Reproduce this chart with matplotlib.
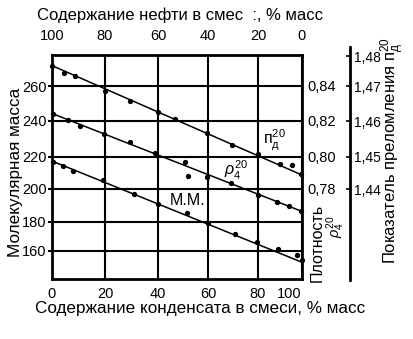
import numpy as np
import matplotlib
matplotlib.use("Agg")
import matplotlib.pyplot as plt

plt.rcParams['font.family'] = ['Liberation Sans', 'DejaVu Sans']
plt.rcParams['mathtext.fontset'] = 'custom'
plt.rcParams['mathtext.rm'] = 'Liberation Sans'
plt.rcParams['mathtext.it'] = 'Liberation Sans:italic'
plt.rcParams['mathtext.bf'] = 'Liberation Sans:bold'

# ---------------- data ----------------
cond_ticks = [0, 20, 40, 60, 80, 100]          # condensate content, % mass (bottom)
oil_ticks = [100, 80, 60, 40, 20, 0]           # oil content, % mass (top)
mm_ticks = [160, 180, 200, 220, 240, 260]      # molecular mass (left)
rho_ticks = [0.78, 0.80, 0.82, 0.84]           # density (right)
n_ticks = [1.44, 1.45, 1.46, 1.47, 1.48]       # refractive index (far right)

# refractive index n_D^20
n_x = [0, 4.5, 8.7, 20, 29.4, 40, 46.8, 59.5, 69.5, 80, 90, 95.3, 99.5]
n_y = [1.4768, 1.4744, 1.4734, 1.4686, 1.4658, 1.4626, 1.4606, 1.4566,
       1.4533, 1.4507, 1.4477, 1.4474, 1.4446]
n_line_x = [0, 100]
n_line_y = [1.4768, 1.4443]

# density rho_4^20
rho_x = [0.4, 5.9, 10.6, 19.6, 29.4, 38.9, 50.8, 51.9, 59.5, 69.1, 80, 88.5, 94.1, 99.5]
rho_y = [0.8240, 0.8206, 0.8173, 0.8127, 0.8082, 0.8020, 0.7968, 0.7880,
         0.7872, 0.7835, 0.7763, 0.7722, 0.7695, 0.7665]
rho_line_x = [0, 100]
rho_line_y = [0.8243, 0.7662]

# molecular mass
mm_x = [0.4, 4.2, 7.9, 19.2, 30.9, 39.9, 51.5, 60, 70.8, 79.5, 89, 97.6, 99.8]
mm_y = [216.8, 214.2, 211.3, 205.5, 196.9, 190.8, 185.4, 178.8, 171.4,
        165.7, 160.7, 157.0, 153.3]
mm_line_x = [0, 100]
mm_line_y = [217.2, 151.9]

# ---------------- layout ----------------
W, H = 414, 339
fig = plt.figure(figsize=(W / 100, H / 100), dpi=100)
L, R, T, B = 52, 302, 55, 279


def pw(xa, ya):
    xa = np.asarray(xa, float)
    ya = np.asarray(ya, float)
    s0 = (ya[1] - ya[0]) / (xa[1] - xa[0])
    s1 = (ya[-1] - ya[-2]) / (xa[-1] - xa[-2])

    def f(v):
        v = np.asarray(v, float)
        out = np.interp(v, xa, ya)
        out = np.where(v < xa[0], ya[0] + (v - xa[0]) * s0, out)
        out = np.where(v > xa[-1], ya[-1] + (v - xa[-1]) * s1, out)
        return out
    return f


# hand-drawn (non-uniform) spacing of the original scales, in pixels
X_PX = [0, 53, 106, 156, 206, 250]
Y_PX = [28.5, 57.5, 90, 122.5, 158, 193]
R_PX = [90, 122.5, 158, 193]
N_PX = [90, 122.5, 158, 193, 223]
fx, fx_inv = pw(cond_ticks, X_PX), pw(X_PX, cond_ticks)
fy, fy_inv = pw(mm_ticks, Y_PX), pw(Y_PX, mm_ticks)
fr, fr_inv = pw(rho_ticks, R_PX), pw(R_PX, rho_ticks)
fn, fn_inv = pw(n_ticks, N_PX), pw(N_PX, n_ticks)


def comma(v, d=2):
    return f"{v:.{d}f}".replace('.', ',')


TICK_FS = 10.5
LAB_FS = 12.3

ax = fig.add_axes([L / W, 1 - B / H, (R - L) / W, (B - T) / H])
ax.set_xscale('function', functions=(fx, fx_inv))
ax.set_yscale('function', functions=(fy, fy_inv))
ax.set_xlim(0, 100)
ax.set_ylim(float(fy_inv(0)), float(fy_inv(B - T)))
ax.set_xticks(cond_ticks, labels=[str(v) for v in cond_ticks])
ax.set_yticks(mm_ticks, labels=[str(v) for v in mm_ticks])
ax.minorticks_off()
ax.tick_params(axis='x', length=0, pad=6, labelsize=TICK_FS)
ax.tick_params(axis='y', direction='out', length=3, width=1.5, pad=1, labelsize=TICK_FS)
lbls = ax.get_xticklabels()
lbls[-1].set_horizontalalignment('right')
ax.grid(True, color='black', lw=1.5)
for s in ax.spines.values():
    s.set_linewidth(2)

ax.plot(mm_line_x, mm_line_y, color='black', lw=1.1, zorder=3)
ax.plot(mm_x, mm_y, 'o', color='black', ms=2.8, zorder=4, clip_on=False)

# top axis: oil content
axt = ax.twiny()
axt.set_xscale('function', functions=(fx, fx_inv))
axt.set_xlim(0, 100)
axt.set_xticks([100 - o for o in oil_ticks], labels=[str(o) for o in oil_ticks])
axt.minorticks_off()
axt.tick_params(axis='x', length=0, pad=9, labelsize=TICK_FS)
for s in axt.spines.values():
    s.set_visible(False)

# density axis
axr = ax.twinx()
axr.set_yscale('function', functions=(fr, fr_inv))
axr.set_ylim(float(fr_inv(0)), float(fr_inv(B - T)))
axr.set_yticks(rho_ticks, labels=[comma(v) for v in rho_ticks])
axr.minorticks_off()
axr.tick_params(axis='y', length=0, pad=4, labelsize=TICK_FS)
for s in axr.spines.values():
    s.set_visible(False)
axr.plot(rho_line_x, rho_line_y, color='black', lw=1.1, zorder=3)
axr.plot(rho_x, rho_y, 'o', color='black', ms=2.8, zorder=4, clip_on=False)

# refractive index axis (separate spine further right)
NT, NB = 47, 280
axn = fig.add_axes([L / W, 1 - NB / H, (R - L) / W, (NB - NT) / H])
axn.patch.set_visible(False)
axn.set_xscale('function', functions=(fx, fx_inv))
axn.set_xlim(0, 100)
axn.set_yscale('function', functions=(fn, fn_inv))
axn.set_ylim(float(fn_inv(B - NB)), float(fn_inv(B - NT)))
axn.xaxis.set_visible(False)
for k, s in axn.spines.items():
    s.set_visible(k == 'right')
axn.spines['right'].set_position(('axes', (350 - L) / (R - L)))
axn.spines['right'].set_linewidth(2)
axn.yaxis.tick_right()
axn.set_yticks(n_ticks, labels=[comma(v) for v in n_ticks])
axn.minorticks_off()
axn.tick_params(axis='y', direction='in', length=3, width=1.2, pad=3, labelsize=10)
axn.plot(n_line_x, n_line_y, color='black', lw=1.1, zorder=3)
axn.plot(n_x, n_y, 'o', color='black', ms=2.8, zorder=4, clip_on=False)

# curve labels
ax.text(87.3, 229.3, "п$_\\mathrm{д}^{20}$", ha='center', va='center', fontsize=11.5)
ax.text(71.2, 211.7, r"$\rho_4^{20}$", ha='center', va='center', fontsize=11.5)
ax.text(52, 193.2, "М.М.", ha='center', va='center', fontsize=11.5)

# axis titles
fig.text(180 / W, 1 - 15 / H, "Содержание нефти в смес  :, % масс",
         ha='center', va='center', fontsize=12)
fig.text(200 / W, 1 - 308 / H, "Содержание конденсата в смеси, % масс",
         ha='center', va='center', fontsize=LAB_FS)
fig.text(16 / W, 1 - 172 / H, "Молекулярная масса", rotation=90,
         ha='center', va='center', fontsize=LAB_FS)
fig.text(317 / W, 1 - 243 / H, "Плотность", rotation=90,
         ha='center', va='center', fontsize=11.5)
fig.text(336 / W, 1 - 227 / H, r"$\rho_4^{20}$", rotation=90,
         ha='center', va='center', fontsize=10.5)
fig.text(393 / W, 1 - 150 / H, "Показатель преломления п$_\\mathrm{д}^{20}$",
         rotation=90, ha='center', va='center', fontsize=12)

fig.savefig("out.png", dpi=100)
